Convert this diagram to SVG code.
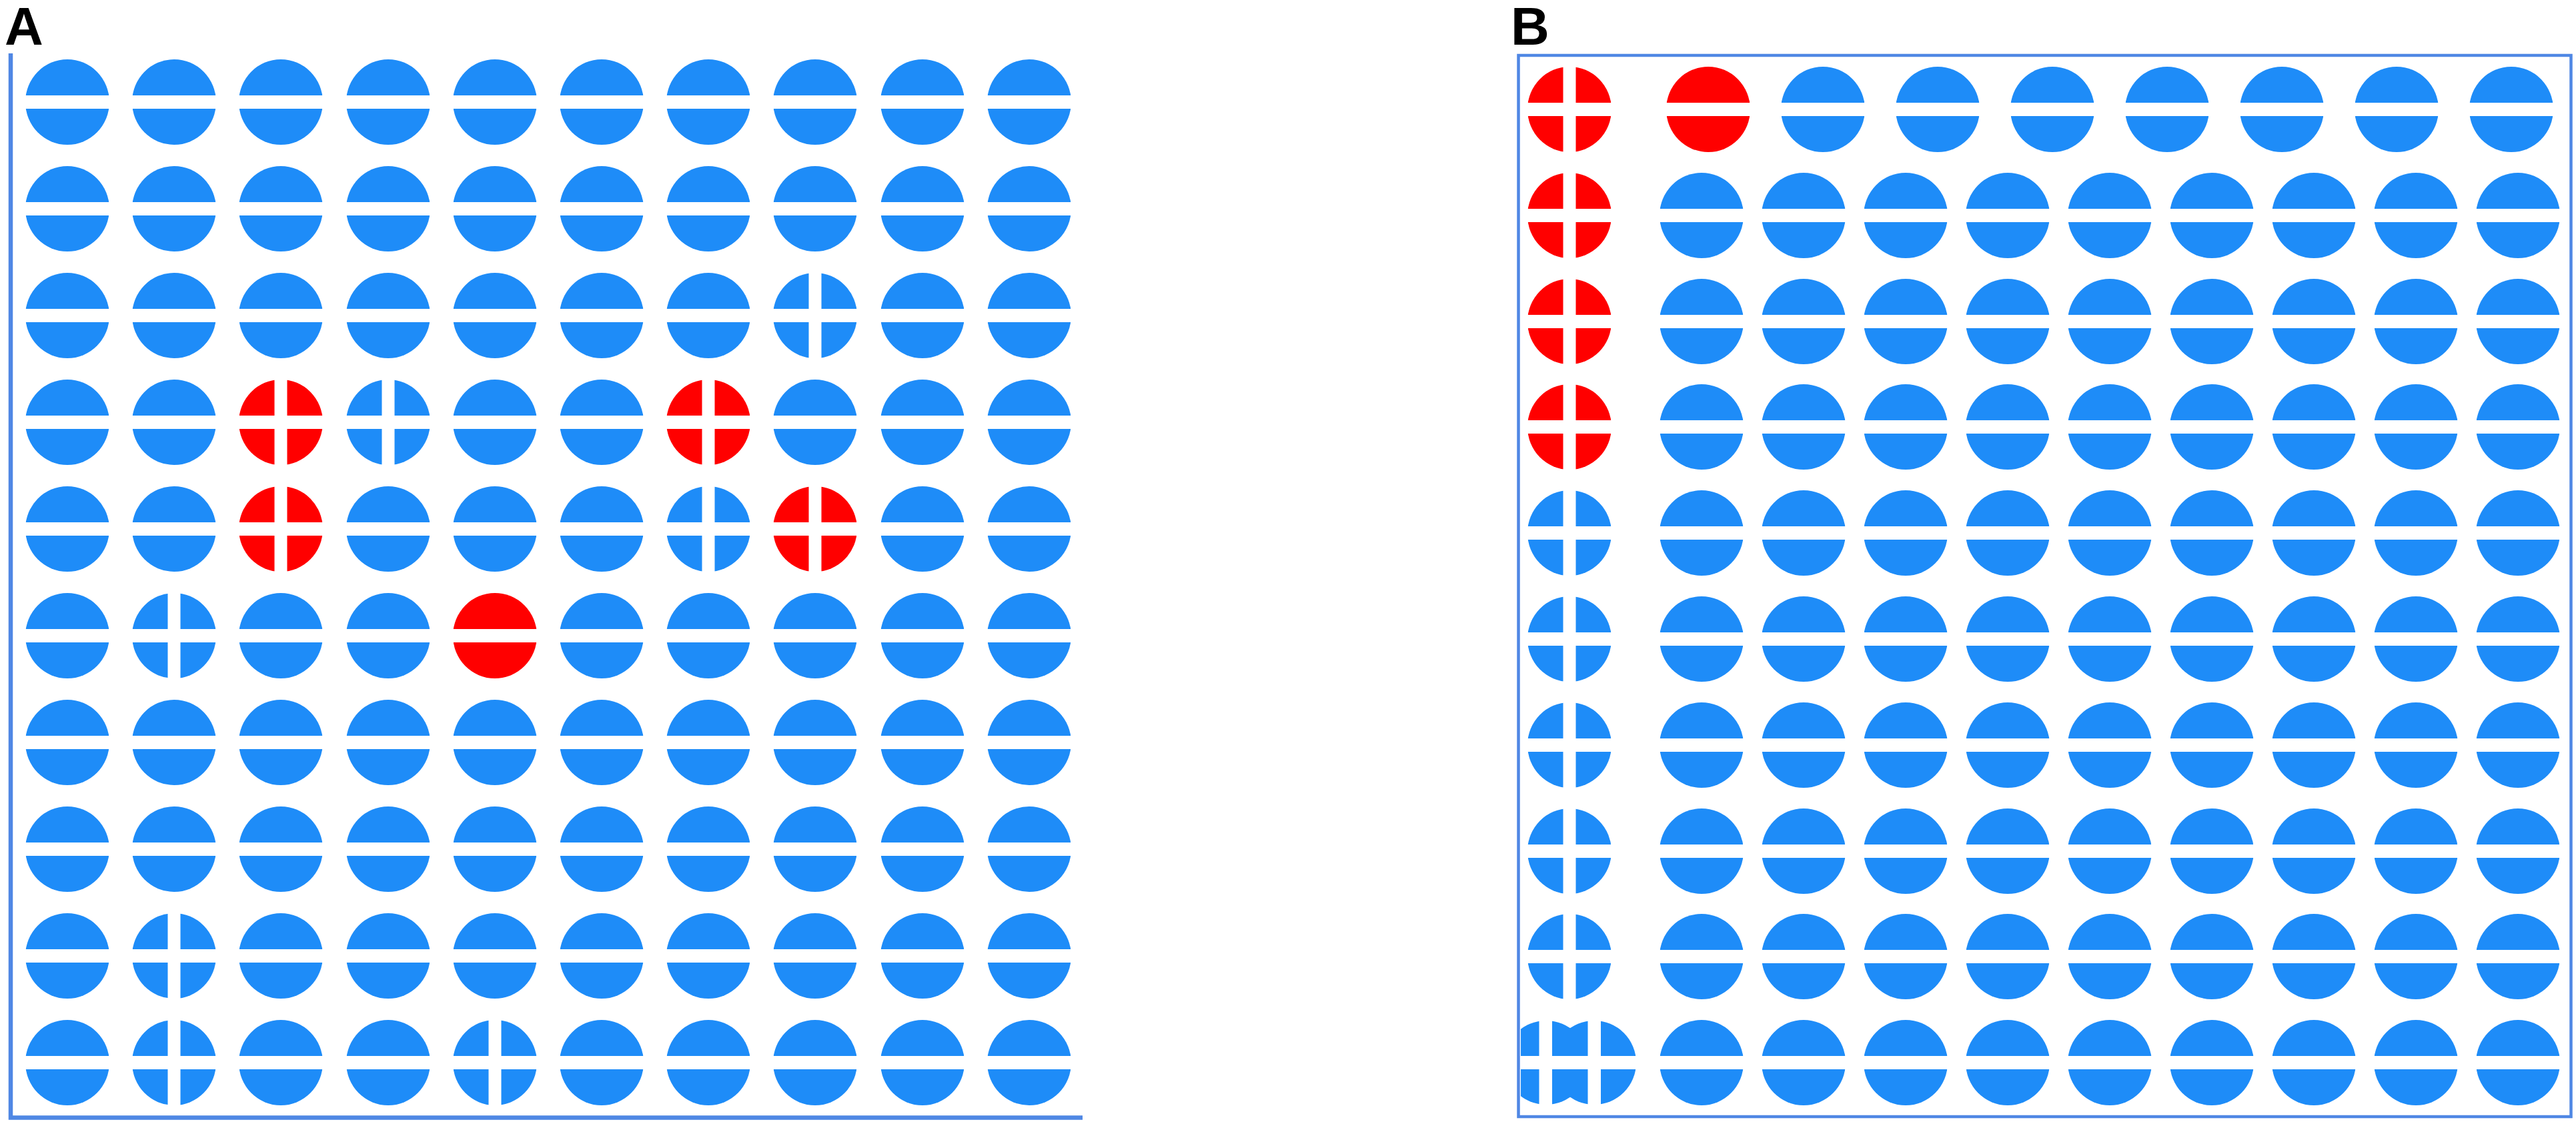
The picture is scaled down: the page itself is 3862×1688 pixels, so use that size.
<svg xmlns="http://www.w3.org/2000/svg" xmlns:xlink="http://www.w3.org/1999/xlink" width="3862" height="1688" viewBox="0 0 3862 1688">
<style>
.b{fill:#1E8CF8}
.r{fill:#FF0000}
.w{fill:#FFFFFF}
.frameA{fill:none;stroke:#4F87E4;stroke-width:6.5}
.frameB{fill:none;stroke:#4F87E4;stroke-width:4.5}
.lbl{font-family:"Liberation Sans",Arial,sans-serif;font-weight:bold;font-size:80px;fill:#000}
</style>
<defs>
<g id="bp"><ellipse rx="63" ry="64" class="b"/><rect x="-66" y="-10" width="132" height="20" class="w"/></g>
<g id="bx"><ellipse rx="63" ry="64" class="b"/><rect x="-66" y="-10" width="132" height="20" class="w"/><rect x="-9.5" y="-67" width="19" height="134" class="w"/></g>
<g id="rp"><ellipse rx="63" ry="64" class="r"/><rect x="-66" y="-10" width="132" height="20" class="w"/></g>
<g id="rx"><ellipse rx="63" ry="64" class="r"/><rect x="-66" y="-10" width="132" height="20" class="w"/><rect x="-9.5" y="-67" width="19" height="134" class="w"/></g>
<clipPath id="clipB"><rect x="2280" y="1500" width="220" height="170"/></clipPath>
</defs>
<rect width="3862" height="1688" fill="#FFFFFF"/>
<text class="lbl" x="7" y="67">A</text>
<text class="lbl" x="2265" y="67">B</text>
<g id="panelA">
<path class="frameA" d="M16,80 V1675.5 H1623"/>
<g id="A-row0">
<use id="A-r0c0" href="#bp" x="101" y="153"/><use id="A-r0c1" href="#bp" x="261" y="153"/><use id="A-r0c2" href="#bp" x="421" y="153"/><use id="A-r0c3" href="#bp" x="582" y="153"/><use id="A-r0c4" href="#bp" x="742" y="153"/><use id="A-r0c5" href="#bp" x="902" y="153"/><use id="A-r0c6" href="#bp" x="1062" y="153"/><use id="A-r0c7" href="#bp" x="1222" y="153"/><use id="A-r0c8" href="#bp" x="1383" y="153"/><use id="A-r0c9" href="#bp" x="1543" y="153"/>
</g>
<g id="A-row1">
<use id="A-r1c0" href="#bp" x="101" y="313"/><use id="A-r1c1" href="#bp" x="261" y="313"/><use id="A-r1c2" href="#bp" x="421" y="313"/><use id="A-r1c3" href="#bp" x="582" y="313"/><use id="A-r1c4" href="#bp" x="742" y="313"/><use id="A-r1c5" href="#bp" x="902" y="313"/><use id="A-r1c6" href="#bp" x="1062" y="313"/><use id="A-r1c7" href="#bp" x="1222" y="313"/><use id="A-r1c8" href="#bp" x="1383" y="313"/><use id="A-r1c9" href="#bp" x="1543" y="313"/>
</g>
<g id="A-row2">
<use id="A-r2c0" href="#bp" x="101" y="473"/><use id="A-r2c1" href="#bp" x="261" y="473"/><use id="A-r2c2" href="#bp" x="421" y="473"/><use id="A-r2c3" href="#bp" x="582" y="473"/><use id="A-r2c4" href="#bp" x="742" y="473"/><use id="A-r2c5" href="#bp" x="902" y="473"/><use id="A-r2c6" href="#bp" x="1062" y="473"/><use id="A-r2c7" href="#bx" x="1222" y="473"/><use id="A-r2c8" href="#bp" x="1383" y="473"/><use id="A-r2c9" href="#bp" x="1543" y="473"/>
</g>
<g id="A-row3">
<use id="A-r3c0" href="#bp" x="101" y="633"/><use id="A-r3c1" href="#bp" x="261" y="633"/><use id="A-r3c2" href="#rx" x="421" y="633"/><use id="A-r3c3" href="#bx" x="582" y="633"/><use id="A-r3c4" href="#bp" x="742" y="633"/><use id="A-r3c5" href="#bp" x="902" y="633"/><use id="A-r3c6" href="#rx" x="1062" y="633"/><use id="A-r3c7" href="#bp" x="1222" y="633"/><use id="A-r3c8" href="#bp" x="1383" y="633"/><use id="A-r3c9" href="#bp" x="1543" y="633"/>
</g>
<g id="A-row4">
<use id="A-r4c0" href="#bp" x="101" y="793"/><use id="A-r4c1" href="#bp" x="261" y="793"/><use id="A-r4c2" href="#rx" x="421" y="793"/><use id="A-r4c3" href="#bp" x="582" y="793"/><use id="A-r4c4" href="#bp" x="742" y="793"/><use id="A-r4c5" href="#bp" x="902" y="793"/><use id="A-r4c6" href="#bx" x="1062" y="793"/><use id="A-r4c7" href="#rx" x="1222" y="793"/><use id="A-r4c8" href="#bp" x="1383" y="793"/><use id="A-r4c9" href="#bp" x="1543" y="793"/>
</g>
<g id="A-row5">
<use id="A-r5c0" href="#bp" x="101" y="953"/><use id="A-r5c1" href="#bx" x="261" y="953"/><use id="A-r5c2" href="#bp" x="421" y="953"/><use id="A-r5c3" href="#bp" x="582" y="953"/><use id="A-r5c4" href="#rp" x="742" y="953"/><use id="A-r5c5" href="#bp" x="902" y="953"/><use id="A-r5c6" href="#bp" x="1062" y="953"/><use id="A-r5c7" href="#bp" x="1222" y="953"/><use id="A-r5c8" href="#bp" x="1383" y="953"/><use id="A-r5c9" href="#bp" x="1543" y="953"/>
</g>
<g id="A-row6">
<use id="A-r6c0" href="#bp" x="101" y="1113"/><use id="A-r6c1" href="#bp" x="261" y="1113"/><use id="A-r6c2" href="#bp" x="421" y="1113"/><use id="A-r6c3" href="#bp" x="582" y="1113"/><use id="A-r6c4" href="#bp" x="742" y="1113"/><use id="A-r6c5" href="#bp" x="902" y="1113"/><use id="A-r6c6" href="#bp" x="1062" y="1113"/><use id="A-r6c7" href="#bp" x="1222" y="1113"/><use id="A-r6c8" href="#bp" x="1383" y="1113"/><use id="A-r6c9" href="#bp" x="1543" y="1113"/>
</g>
<g id="A-row7">
<use id="A-r7c0" href="#bp" x="101" y="1273"/><use id="A-r7c1" href="#bp" x="261" y="1273"/><use id="A-r7c2" href="#bp" x="421" y="1273"/><use id="A-r7c3" href="#bp" x="582" y="1273"/><use id="A-r7c4" href="#bp" x="742" y="1273"/><use id="A-r7c5" href="#bp" x="902" y="1273"/><use id="A-r7c6" href="#bp" x="1062" y="1273"/><use id="A-r7c7" href="#bp" x="1222" y="1273"/><use id="A-r7c8" href="#bp" x="1383" y="1273"/><use id="A-r7c9" href="#bp" x="1543" y="1273"/>
</g>
<g id="A-row8">
<use id="A-r8c0" href="#bp" x="101" y="1433"/><use id="A-r8c1" href="#bx" x="261" y="1433"/><use id="A-r8c2" href="#bp" x="421" y="1433"/><use id="A-r8c3" href="#bp" x="582" y="1433"/><use id="A-r8c4" href="#bp" x="742" y="1433"/><use id="A-r8c5" href="#bp" x="902" y="1433"/><use id="A-r8c6" href="#bp" x="1062" y="1433"/><use id="A-r8c7" href="#bp" x="1222" y="1433"/><use id="A-r8c8" href="#bp" x="1383" y="1433"/><use id="A-r8c9" href="#bp" x="1543" y="1433"/>
</g>
<g id="A-row9">
<use id="A-r9c0" href="#bp" x="101" y="1593"/><use id="A-r9c1" href="#bx" x="261" y="1593"/><use id="A-r9c2" href="#bp" x="421" y="1593"/><use id="A-r9c3" href="#bp" x="582" y="1593"/><use id="A-r9c4" href="#bx" x="742" y="1593"/><use id="A-r9c5" href="#bp" x="902" y="1593"/><use id="A-r9c6" href="#bp" x="1062" y="1593"/><use id="A-r9c7" href="#bp" x="1222" y="1593"/><use id="A-r9c8" href="#bp" x="1383" y="1593"/><use id="A-r9c9" href="#bp" x="1543" y="1593"/>
</g>
</g>
<g id="panelB">
<rect class="frameB" x="2276.5" y="83" width="1578" height="1591"/>
<g id="B-row0">
<use id="B-r0c0" href="#rx" x="2353" y="164"/><use id="B-r0c1" href="#rp" x="2561" y="164"/><use id="B-r0c2" href="#bp" x="2733" y="164"/><use id="B-r0c3" href="#bp" x="2905" y="164"/><use id="B-r0c4" href="#bp" x="3077" y="164"/><use id="B-r0c5" href="#bp" x="3249" y="164"/><use id="B-r0c6" href="#bp" x="3421" y="164"/><use id="B-r0c7" href="#bp" x="3593" y="164"/><use id="B-r0c8" href="#bp" x="3765" y="164"/>
</g>
<g id="B-row1">
<use id="B-r1c0" href="#rx" x="2353" y="323"/><use id="B-r1c1" href="#bp" x="2551" y="323"/><use id="B-r1c2" href="#bp" x="2704" y="323"/><use id="B-r1c3" href="#bp" x="2857" y="323"/><use id="B-r1c4" href="#bp" x="3010" y="323"/><use id="B-r1c5" href="#bp" x="3163" y="323"/><use id="B-r1c6" href="#bp" x="3316" y="323"/><use id="B-r1c7" href="#bp" x="3469" y="323"/><use id="B-r1c8" href="#bp" x="3622" y="323"/><use id="B-r1c9" href="#bp" x="3775" y="323"/>
</g>
<g id="B-row2">
<use id="B-r2c0" href="#rx" x="2353" y="482"/><use id="B-r2c1" href="#bp" x="2551" y="482"/><use id="B-r2c2" href="#bp" x="2704" y="482"/><use id="B-r2c3" href="#bp" x="2857" y="482"/><use id="B-r2c4" href="#bp" x="3010" y="482"/><use id="B-r2c5" href="#bp" x="3163" y="482"/><use id="B-r2c6" href="#bp" x="3316" y="482"/><use id="B-r2c7" href="#bp" x="3469" y="482"/><use id="B-r2c8" href="#bp" x="3622" y="482"/><use id="B-r2c9" href="#bp" x="3775" y="482"/>
</g>
<g id="B-row3">
<use id="B-r3c0" href="#rx" x="2353" y="640"/><use id="B-r3c1" href="#bp" x="2551" y="640"/><use id="B-r3c2" href="#bp" x="2704" y="640"/><use id="B-r3c3" href="#bp" x="2857" y="640"/><use id="B-r3c4" href="#bp" x="3010" y="640"/><use id="B-r3c5" href="#bp" x="3163" y="640"/><use id="B-r3c6" href="#bp" x="3316" y="640"/><use id="B-r3c7" href="#bp" x="3469" y="640"/><use id="B-r3c8" href="#bp" x="3622" y="640"/><use id="B-r3c9" href="#bp" x="3775" y="640"/>
</g>
<g id="B-row4">
<use id="B-r4c0" href="#bx" x="2353" y="799"/><use id="B-r4c1" href="#bp" x="2551" y="799"/><use id="B-r4c2" href="#bp" x="2704" y="799"/><use id="B-r4c3" href="#bp" x="2857" y="799"/><use id="B-r4c4" href="#bp" x="3010" y="799"/><use id="B-r4c5" href="#bp" x="3163" y="799"/><use id="B-r4c6" href="#bp" x="3316" y="799"/><use id="B-r4c7" href="#bp" x="3469" y="799"/><use id="B-r4c8" href="#bp" x="3622" y="799"/><use id="B-r4c9" href="#bp" x="3775" y="799"/>
</g>
<g id="B-row5">
<use id="B-r5c0" href="#bx" x="2353" y="958"/><use id="B-r5c1" href="#bp" x="2551" y="958"/><use id="B-r5c2" href="#bp" x="2704" y="958"/><use id="B-r5c3" href="#bp" x="2857" y="958"/><use id="B-r5c4" href="#bp" x="3010" y="958"/><use id="B-r5c5" href="#bp" x="3163" y="958"/><use id="B-r5c6" href="#bp" x="3316" y="958"/><use id="B-r5c7" href="#bp" x="3469" y="958"/><use id="B-r5c8" href="#bp" x="3622" y="958"/><use id="B-r5c9" href="#bp" x="3775" y="958"/>
</g>
<g id="B-row6">
<use id="B-r6c0" href="#bx" x="2353" y="1117"/><use id="B-r6c1" href="#bp" x="2551" y="1117"/><use id="B-r6c2" href="#bp" x="2704" y="1117"/><use id="B-r6c3" href="#bp" x="2857" y="1117"/><use id="B-r6c4" href="#bp" x="3010" y="1117"/><use id="B-r6c5" href="#bp" x="3163" y="1117"/><use id="B-r6c6" href="#bp" x="3316" y="1117"/><use id="B-r6c7" href="#bp" x="3469" y="1117"/><use id="B-r6c8" href="#bp" x="3622" y="1117"/><use id="B-r6c9" href="#bp" x="3775" y="1117"/>
</g>
<g id="B-row7">
<use id="B-r7c0" href="#bx" x="2353" y="1276"/><use id="B-r7c1" href="#bp" x="2551" y="1276"/><use id="B-r7c2" href="#bp" x="2704" y="1276"/><use id="B-r7c3" href="#bp" x="2857" y="1276"/><use id="B-r7c4" href="#bp" x="3010" y="1276"/><use id="B-r7c5" href="#bp" x="3163" y="1276"/><use id="B-r7c6" href="#bp" x="3316" y="1276"/><use id="B-r7c7" href="#bp" x="3469" y="1276"/><use id="B-r7c8" href="#bp" x="3622" y="1276"/><use id="B-r7c9" href="#bp" x="3775" y="1276"/>
</g>
<g id="B-row8">
<use id="B-r8c0" href="#bx" x="2353" y="1434"/><use id="B-r8c1" href="#bp" x="2551" y="1434"/><use id="B-r8c2" href="#bp" x="2704" y="1434"/><use id="B-r8c3" href="#bp" x="2857" y="1434"/><use id="B-r8c4" href="#bp" x="3010" y="1434"/><use id="B-r8c5" href="#bp" x="3163" y="1434"/><use id="B-r8c6" href="#bp" x="3316" y="1434"/><use id="B-r8c7" href="#bp" x="3469" y="1434"/><use id="B-r8c8" href="#bp" x="3622" y="1434"/><use id="B-r8c9" href="#bp" x="3775" y="1434"/>
</g>
<g id="B-row9">
<g id="B-r9c0" clip-path="url(#clipB)">
<ellipse cx="2318" cy="1593" rx="63" ry="63" class="b"/>
<ellipse cx="2390" cy="1593" rx="63" ry="63" class="b"/>
<rect x="2307.5" y="1520" width="19.5" height="146" class="w"/>
<rect x="2380.5" y="1520" width="19.5" height="146" class="w"/>
<rect x="2240" y="1583" width="230" height="20" class="w"/>
</g>
<use id="B-r9c1" href="#bp" x="2551" y="1593"/><use id="B-r9c2" href="#bp" x="2704" y="1593"/><use id="B-r9c3" href="#bp" x="2857" y="1593"/><use id="B-r9c4" href="#bp" x="3010" y="1593"/><use id="B-r9c5" href="#bp" x="3163" y="1593"/><use id="B-r9c6" href="#bp" x="3316" y="1593"/><use id="B-r9c7" href="#bp" x="3469" y="1593"/><use id="B-r9c8" href="#bp" x="3622" y="1593"/><use id="B-r9c9" href="#bp" x="3775" y="1593"/>
</g>
</g>
</svg>
